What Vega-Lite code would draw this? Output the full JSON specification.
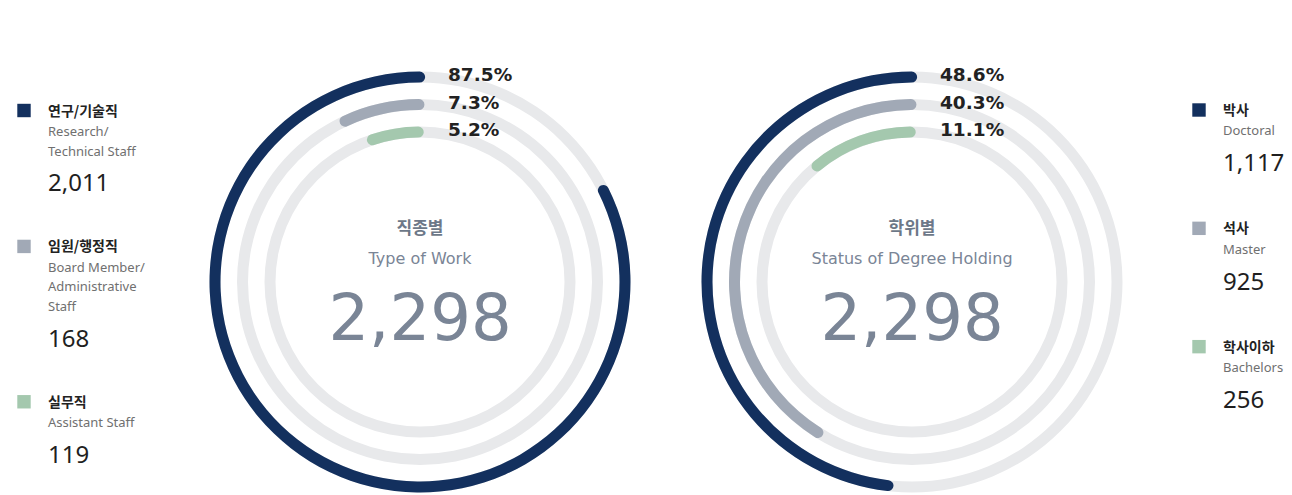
{
  "$schema": "https://vega.github.io/schema/vega-lite/v6.json",
  "padding": 0,
  "spacing": 0,
  "bounds": "flush",
  "background": "white",
  "config": {"view": {"stroke": null}},
  "datasets": {
    "rings": [
      {"chart": "work", "ring": 1, "frac": 0.828, "pct": "87.5%"},
      {"chart": "work", "ring": 2, "frac": 0.0744, "pct": "7.3%"},
      {"chart": "work", "ring": 3, "frac": 0.0572, "pct": "5.2%"},
      {"chart": "degree", "ring": 1, "frac": 0.4856, "pct": "48.6%"},
      {"chart": "degree", "ring": 2, "frac": 0.416, "pct": "40.3%"},
      {"chart": "degree", "ring": 3, "frac": 0.115, "pct": "11.1%"}
    ],
    "centers": [
      {"chart": "work", "ko": "직종별", "en": "Type of Work", "total": "2,298"},
      {"chart": "degree", "ko": "학위별", "en": "Status of Degree Holding", "total": "2,298"}
    ],
    "legend": [
      {"side": "L", "ring": 1, "kind": "ko", "row": 0, "text": "연구/기술직"},
      {"side": "L", "ring": 1, "kind": "en", "row": 1, "text": "Research/"},
      {"side": "L", "ring": 1, "kind": "en", "row": 2, "text": "Technical Staff"},
      {"side": "L", "ring": 1, "kind": "num", "row": 3, "text": "2,011"},
      {"side": "L", "ring": 2, "kind": "ko", "row": 7, "text": "임원/행정직"},
      {"side": "L", "ring": 2, "kind": "en", "row": 8, "text": "Board Member/"},
      {"side": "L", "ring": 2, "kind": "en", "row": 9, "text": "Administrative"},
      {"side": "L", "ring": 2, "kind": "en", "row": 10, "text": "Staff"},
      {"side": "L", "ring": 2, "kind": "num", "row": 11, "text": "168"},
      {"side": "L", "ring": 3, "kind": "ko", "row": 15, "text": "실무직"},
      {"side": "L", "ring": 3, "kind": "en", "row": 16, "text": "Assistant Staff"},
      {"side": "L", "ring": 3, "kind": "num", "row": 17, "text": "119"},
      {"side": "R", "ring": 1, "kind": "ko", "row": 0, "text": "박사"},
      {"side": "R", "ring": 1, "kind": "en", "row": 1, "text": "Doctoral"},
      {"side": "R", "ring": 1, "kind": "num", "row": 2, "text": "1,117"},
      {"side": "R", "ring": 2, "kind": "ko", "row": 6, "text": "석사"},
      {"side": "R", "ring": 2, "kind": "en", "row": 7, "text": "Master"},
      {"side": "R", "ring": 2, "kind": "num", "row": 8, "text": "925"},
      {"side": "R", "ring": 3, "kind": "ko", "row": 12, "text": "학사이하"},
      {"side": "R", "ring": 3, "kind": "en", "row": 13, "text": "Bachelors"},
      {"side": "R", "ring": 3, "kind": "num", "row": 14, "text": "256"}
    ]
  },
  "hconcat": [
    {
      "width": 200,
      "height": 564,
      "data": {"name": "legend"},
      "transform": [{"filter": "datum.side === 'L'"}],
      "encoding": {
        "y": {"field": "row", "type": "quantitative", "axis": null, "scale": {"domain": [0, 17], "range": [110.5, 440.6], "nice": false, "zero": false}}
      },
      "layer": [
        {
          "transform": [{"filter": "datum.kind === 'ko'"}],
          "mark": {"type": "square", "size": 180, "opacity": 1},
          "encoding": {
            "x": {"value": 24},
            "color": {"field": "ring", "type": "ordinal", "legend": null, "scale": {"domain": [1, 2, 3], "range": ["#13305e", "#a1a9b6", "#a4c8ae"]}}
          }
        },
        {
          "transform": [{"filter": "datum.kind === 'ko'"}],
          "mark": {"type": "text", "align": "left", "baseline": "middle", "dy": 1, "font": "Noto Sans CJK KR", "fontWeight": "bold", "fontSize": 14, "color": "#222222"},
          "encoding": {"x": {"value": 48}, "text": {"field": "text"}}
        },
        {
          "transform": [{"filter": "datum.kind === 'en'"}],
          "mark": {"type": "text", "align": "left", "baseline": "alphabetic", "dy": 6.2, "font": "Noto Sans", "fontSize": 13, "color": "#707070"},
          "encoding": {"x": {"value": 48}, "text": {"field": "text"}}
        },
        {
          "transform": [{"filter": "datum.kind === 'num'"}],
          "mark": {"type": "text", "align": "left", "baseline": "alphabetic", "dy": 22.6, "font": "Noto Sans", "fontSize": 24, "color": "#1f1f1f"},
          "encoding": {"x": {"value": 48}, "text": {"field": "text"}}
        }
      ]
    },
    {
      "width": 440,
      "height": 564,
      "layer": [
        {
          "data": {"name": "rings"},
          "transform": [{"filter": "datum.chart === 'work'"}],
          "mark": {"type": "arc", "radiusOffset": 5.5, "radius2Offset": -5.5, "color": "#e8e9eb"},
          "encoding": {
            "radius": {"field": "ring", "type": "quantitative", "scale": {"type": "linear", "domain": [1, 3], "range": [205, 150], "zero": false, "nice": false}},
            "radius2": {"field": "ring"},
            "theta": {"value": 0},
            "theta2": {"value": 6.2832}
          }
        },
        {
          "data": {"name": "rings"},
          "transform": [{"filter": "datum.chart === 'work'"}],
          "mark": {"type": "arc", "radiusOffset": 5.5, "radius2Offset": -5.5, "cornerRadius": 5.5},
          "encoding": {
            "radius": {"field": "ring", "type": "quantitative", "scale": {"type": "linear", "domain": [1, 3], "range": [205, 150], "zero": false, "nice": false}},
            "radius2": {"field": "ring"},
            "theta": {"field": "frac", "type": "quantitative", "stack": null, "scale": {"domain": [0, 1], "range": [6.2832, 0], "nice": false, "zero": false}},
            "theta2": {"value": 6.3082},
            "color": {"field": "ring", "type": "ordinal", "legend": null, "scale": {"domain": [1, 2, 3], "range": ["#13305e", "#a1a9b6", "#a4c8ae"]}}
          }
        },
        {
          "data": {"name": "rings"},
          "transform": [{"filter": "datum.chart === 'work'"}],
          "mark": {"type": "text", "align": "left", "baseline": "alphabetic", "dx": 28, "dy": 4.3, "font": "DejaVu Sans", "fontWeight": "bold", "fontSize": 18.5, "color": "#222222"},
          "encoding": {
            "radius": {"field": "ring", "type": "quantitative", "scale": {"type": "linear", "domain": [1, 3], "range": [205, 150], "zero": false, "nice": false}},
            "theta": {"value": 0},
            "text": {"field": "pct"}
          }
        },
        {
          "data": {"name": "centers"},
          "transform": [{"filter": "datum.chart === 'work'"}],
          "mark": {"type": "text", "align": "center", "baseline": "middle", "dy": -53, "font": "Noto Sans CJK KR", "fontWeight": "bold", "fontSize": 17, "color": "#6d7888"},
          "encoding": {"text": {"field": "ko"}}
        },
        {
          "data": {"name": "centers"},
          "transform": [{"filter": "datum.chart === 'work'"}],
          "mark": {"type": "text", "align": "center", "baseline": "alphabetic", "dy": -18, "font": "DejaVu Sans", "fontSize": 16, "color": "#7a8596"},
          "encoding": {"text": {"field": "en"}}
        },
        {
          "data": {"name": "centers"},
          "transform": [{"filter": "datum.chart === 'work'"}],
          "mark": {"type": "text", "align": "center", "baseline": "alphabetic", "dy": 58, "font": "DejaVu Sans", "fontSize": 64, "color": "#7a8596"},
          "encoding": {"text": {"field": "total"}}
        }
      ]
    },
    {
      "width": 544,
      "height": 564,
      "layer": [
        {
          "data": {"name": "rings"},
          "transform": [{"filter": "datum.chart === 'degree'"}],
          "mark": {"type": "arc", "radiusOffset": 5.5, "radius2Offset": -5.5, "color": "#e8e9eb"},
          "encoding": {
            "radius": {"field": "ring", "type": "quantitative", "scale": {"type": "linear", "domain": [1, 3], "range": [205, 150], "zero": false, "nice": false}},
            "radius2": {"field": "ring"},
            "theta": {"value": 0},
            "theta2": {"value": 6.2832}
          }
        },
        {
          "data": {"name": "rings"},
          "transform": [{"filter": "datum.chart === 'degree'"}],
          "mark": {"type": "arc", "radiusOffset": 5.5, "radius2Offset": -5.5, "cornerRadius": 5.5},
          "encoding": {
            "radius": {"field": "ring", "type": "quantitative", "scale": {"type": "linear", "domain": [1, 3], "range": [205, 150], "zero": false, "nice": false}},
            "radius2": {"field": "ring"},
            "theta": {"field": "frac", "type": "quantitative", "stack": null, "scale": {"domain": [0, 1], "range": [6.2832, 0], "nice": false, "zero": false}},
            "theta2": {"value": 6.3082},
            "color": {"field": "ring", "type": "ordinal", "legend": null, "scale": {"domain": [1, 2, 3], "range": ["#13305e", "#a1a9b6", "#a4c8ae"]}}
          }
        },
        {
          "data": {"name": "rings"},
          "transform": [{"filter": "datum.chart === 'degree'"}],
          "mark": {"type": "text", "align": "left", "baseline": "alphabetic", "dx": 28, "dy": 4.3, "font": "DejaVu Sans", "fontWeight": "bold", "fontSize": 18.5, "color": "#222222"},
          "encoding": {
            "radius": {"field": "ring", "type": "quantitative", "scale": {"type": "linear", "domain": [1, 3], "range": [205, 150], "zero": false, "nice": false}},
            "theta": {"value": 0},
            "text": {"field": "pct"}
          }
        },
        {
          "data": {"name": "centers"},
          "transform": [{"filter": "datum.chart === 'degree'"}],
          "mark": {"type": "text", "align": "center", "baseline": "middle", "dy": -53, "font": "Noto Sans CJK KR", "fontWeight": "bold", "fontSize": 17, "color": "#6d7888"},
          "encoding": {"text": {"field": "ko"}}
        },
        {
          "data": {"name": "centers"},
          "transform": [{"filter": "datum.chart === 'degree'"}],
          "mark": {"type": "text", "align": "center", "baseline": "alphabetic", "dy": -18, "font": "DejaVu Sans", "fontSize": 16, "color": "#7a8596"},
          "encoding": {"text": {"field": "en"}}
        },
        {
          "data": {"name": "centers"},
          "transform": [{"filter": "datum.chart === 'degree'"}],
          "mark": {"type": "text", "align": "center", "baseline": "alphabetic", "dy": 58, "font": "DejaVu Sans", "fontSize": 64, "color": "#7a8596"},
          "encoding": {"text": {"field": "total"}}
        }
      ]
    },
    {
      "width": 108,
      "height": 564,
      "data": {"name": "legend"},
      "transform": [{"filter": "datum.side === 'R'"}],
      "encoding": {
        "y": {"field": "row", "type": "quantitative", "axis": null, "scale": {"domain": [0, 14], "range": [110, 386.1], "nice": false, "zero": false}}
      },
      "layer": [
        {
          "transform": [{"filter": "datum.kind === 'ko'"}],
          "mark": {"type": "square", "size": 180, "opacity": 1},
          "encoding": {
            "x": {"value": 15},
            "color": {"field": "ring", "type": "ordinal", "legend": null, "scale": {"domain": [1, 2, 3], "range": ["#13305e", "#a1a9b6", "#a4c8ae"]}}
          }
        },
        {
          "transform": [{"filter": "datum.kind === 'ko'"}],
          "mark": {"type": "text", "align": "left", "baseline": "middle", "dy": 1, "font": "Noto Sans CJK KR", "fontWeight": "bold", "fontSize": 14, "color": "#222222"},
          "encoding": {"x": {"value": 39}, "text": {"field": "text"}}
        },
        {
          "transform": [{"filter": "datum.kind === 'en'"}],
          "mark": {"type": "text", "align": "left", "baseline": "alphabetic", "dy": 5.6, "font": "Noto Sans", "fontSize": 13, "color": "#707070"},
          "encoding": {"x": {"value": 39}, "text": {"field": "text"}}
        },
        {
          "transform": [{"filter": "datum.kind === 'num'"}],
          "mark": {"type": "text", "align": "left", "baseline": "alphabetic", "dy": 21.9, "font": "Noto Sans", "fontSize": 24, "color": "#1f1f1f"},
          "encoding": {"x": {"value": 39}, "text": {"field": "text"}}
        }
      ]
    }
  ]
}
